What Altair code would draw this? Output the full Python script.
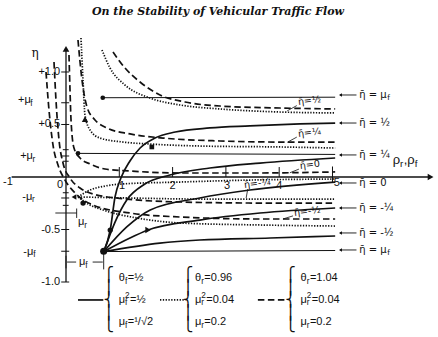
import altair as alt
import pandas as pd

# ---------------- constants of the figure ----------------
MU_F = 0.707
MU_R = 0.2
X_DOM = [-1.2383, 6.9794]
Y_DOM = [-1.5238, 1.6857]
PXU = 1 / 53.3   # data units per pixel (x)
PYU = 1 / 105    # data units per pixel (y)
INK = "#111111"

# ---------------- solid curves (theta_f = 1/2) ----------------
s1_p = [0.71, 0.83, 0.92, 1.03, 1.20, 1.39, 1.67, 2.05, 2.70, 3.45, 4.39, 5.05]
s1_eta = [-0.71, -0.505, -0.19, -0.01, 0.152, 0.276, 0.371, 0.429, 0.467, 0.486, 0.505, 0.514]
s2_p = [0.71, 0.92, 1.14, 1.48, 1.95, 2.70, 3.64, 5.05]
s2_eta = [-0.71, -0.429, -0.219, -0.067, 0.019, 0.086, 0.133, 0.181]
s3_p = [0.71, 1.14, 1.58, 2.51, 3.45, 5.05]
s3_eta = [-0.71, -0.476, -0.314, -0.20, -0.124, -0.048]
s4_p = [0.71, 1.20, 1.54, 2.51, 3.64, 5.05]
s4_eta = [-0.71, -0.581, -0.505, -0.41, -0.343, -0.295]
s5_p = [0.71, 1.76, 2.51, 3.83, 5.05]
s5_eta = [-0.71, -0.629, -0.60, -0.581, -0.562]

# ---------------- thin horizontal lines ----------------
hf_p = [0.69, 5.05]
hf_eta = [0.755, 0.760]
hr_p = [0.225, 5.05]
hr_eta = [0.225, 0.215]
hb_p = [0.71, 5.05]
hb_eta = [-0.71, -0.70]

# ---------------- dotted curves (theta_r = 0.96) ----------------
d1_p = [0.675, 0.826, 1.107, 1.576, 2.139, 2.889, 4.015, 5.05]
d1_eta = [1.21, 1.038, 0.876, 0.752, 0.686, 0.648, 0.619, 0.61]
d3_p = [0.281, 0.319, 0.356, 0.45, 0.638, 1.069, 1.576, 2.514, 4.015, 5.05]
d3_eta = [1.324, 0.924, 0.59, 0.448, 0.371, 0.333, 0.314, 0.295, 0.286, 0.276]
d0_p = [0.225, 0.45, 0.732, 1.032, 2.139, 3.452, 5.05]
d0_eta = [-0.19, -0.124, -0.086, -0.067, -0.048, -0.029, -0.019]
dq_p = [0.225, 1.2, 2.5, 5.05]
dq_eta = [-0.19, -0.20, -0.21, -0.21]
dh_p = [0.225, 0.45, 0.694, 1.445, 2.139, 3.64, 5.05]
dh_eta = [-0.19, -0.267, -0.314, -0.40, -0.438, -0.457, -0.467]

# ---------------- dashed curves (theta_r = 1.04) ----------------
e2_p = [0.882, 1.107, 1.388, 1.764, 2.233, 2.889, 4.015, 5.05]
e2_eta = [1.19, 1.038, 0.905, 0.781, 0.714, 0.676, 0.657, 0.648]
e4_p = [0.225, 0.30, 0.394, 0.544, 0.769, 1.201, 1.82, 2.889, 4.015, 5.05]
e4_eta = [1.305, 0.924, 0.667, 0.543, 0.467, 0.41, 0.371, 0.343, 0.333, 0.333]
e5_p = [0.056, 0.075, 0.094, 0.15, 0.263, 0.45, 0.732, 1.201, 2.139, 3.452, 5.05]
e5_eta = [1.162, 0.829, 0.543, 0.276, 0.181, 0.124, 0.076, 0.057, 0.038, 0.038, 0.048]
l2_p = [-0.225, -0.188, -0.131, -0.056, 0.075, 0.263, 0.507, 1.144, 2.139, 3.64, 5.05]
l2_eta = [1.095, 0.733, 0.352, 0.133, -0.01, -0.105, -0.162, -0.21, -0.238, -0.248, -0.248]
l1_p = [-0.375, -0.319, -0.244, -0.15, -0.019, 0.169, 0.507, 1.201, 2.139, 3.64, 5.05]
l1_eta = [1.0, 0.638, 0.305, 0.114, -0.029, -0.152, -0.267, -0.343, -0.381, -0.40, -0.40]

# ---------------- legend samples ----------------
leg_eta = -1.171
leg_solid_p = [0.225, 0.70]
leg_dot_p = [1.764, 2.24]
leg_dash_p = [3.60, 4.12]

# ---------------- labels ----------------
y_num_vals = [1.0, 0.5, -0.5, -1.0]
y_num_text = ["+1.0", "+0.5", "-0.5", "-1.0"]
y_mu_eta = [0.733, 0.20, -0.19, -0.714]
y_mu_text = ["+μ", "+μ", "-μ", "-μ"]
y_mu_sub = ["f", "r", "r", "f"]
y_mu_x = [-0.90, -0.86, -0.82, -0.80]
x_tick_vals = [1, 2, 3, 4]
x_lab_p = [-1.09, -0.113, 1.05, 2.0, 3.02, 4.0, 5.08]
x_lab_eta = [-0.05, -0.08, -0.09, -0.09, -0.09, -0.09, -0.06]
x_lab_text = ["-1", "0", "1", "2", "3", "4", "5"]
right_eta = [0.781, 0.514, 0.21, -0.057, -0.295, -0.533, -0.695]
right_text = ["η\u0304 = μ", "η\u0304 = ½", "η\u0304 = ¼", "η\u0304 = 0", "η\u0304 = -¼", "η\u0304 = -½", "η\u0304 = μ"]
right_sub = ["f", "", "", "", "", "", "f"]
inner_text = ["η\u0304=½", "η\u0304=¼", "η\u0304=0", "η\u0304=-¼", "η\u0304=-½"]
inner_p = [4.353, 4.353, 4.39, 3.34, 4.278]
inner_eta = [0.714, 0.41, 0.105, -0.076, -0.343]
leader_from = [(4.33, 0.68), (4.33, 0.38), (4.37, 0.075), (3.41, -0.115), (4.26, -0.37)]
leader_to = [(4.15, 0.63), (4.15, 0.33), (4.20, 0.04), (3.38, -0.20), (4.07, -0.40)]

legend_x = [0.99, 2.42, 4.40]
legend_brace_x = [0.80, 2.29, 4.21]
legend_brace_top = -0.87
legend_rows_eta = [-0.962, -1.171, -1.381]
legend_sub = ["f", "r", "r"]
legend_vals = [["=½", "=½", "=¹/√2"], ["=0.96", "=0.04", "=0.2"], ["=1.04", "=0.04", "=0.2"]]

TITLE = "On the Stability of Vehicular Traffic Flow"

# ---------------- build tables ----------------
curves = [
    ("s1", "solid", s1_p, s1_eta), ("s2", "solid", s2_p, s2_eta), ("s3", "solid", s3_p, s3_eta),
    ("s4", "solid", s4_p, s4_eta), ("s5", "solid", s5_p, s5_eta),
    ("hf", "thin", hf_p, hf_eta), ("hr", "thin", hr_p, hr_eta), ("hb", "thin", hb_p, hb_eta),
    ("d1", "dotted", d1_p, d1_eta), ("d3", "dotted", d3_p, d3_eta), ("d0", "dotted", d0_p, d0_eta),
    ("dq", "dotted", dq_p, dq_eta), ("dh", "dotted", dh_p, dh_eta),
    ("e2", "dashed", e2_p, e2_eta), ("e4", "dashed", e4_p, e4_eta), ("e5", "dashed", e5_p, e5_eta),
    ("l2", "dashed", l2_p, l2_eta), ("l1", "dashed", l1_p, l1_eta),
    ("ls", "solid", leg_solid_p, [leg_eta, leg_eta]),
    ("ld", "dotted", leg_dot_p, [leg_eta, leg_eta]),
    ("le", "dashed", leg_dash_p, [leg_eta, leg_eta]),
]
rows = []
for name, style, ps, es in curves:
    for i, (p, e) in enumerate(zip(ps, es)):
        rows.append(dict(curve=name, style=style, p=p, eta=e, i=i))
cdf = pd.DataFrame(rows)

xs = alt.Scale(domain=X_DOM, nice=False, zero=False)
ys = alt.Scale(domain=Y_DOM, nice=False, zero=False)
X = alt.X("p:Q", scale=xs, axis=None)
Y = alt.Y("eta:Q", scale=ys, axis=None)


def line_layer(style, **mk):
    return alt.Chart(cdf).transform_filter(alt.datum.style == style).mark_line(
        color=INK, interpolate="monotone", **mk
    ).encode(x=X, y=Y, detail="curve:N", order="i:Q")


solid = line_layer("solid", strokeWidth=1.7)
thin = line_layer("thin", strokeWidth=1.0)
dotted = line_layer("dotted", strokeWidth=1.7, strokeDash=[1.3, 1.5])
dashed = line_layer("dashed", strokeWidth=1.7, strokeDash=[6.5, 3.5])

# rules: axes, ticks, arrows, brackets
rr = []
rr.append(dict(p=-1.02, eta=0, p2=6.80, eta2=0, w=1.3))
rr.append(dict(p=0, eta=-1.0, p2=0, eta2=1.20, w=1.3))
for v in [1.0, MU_F, 0.5, MU_R, -MU_R, -0.5, -MU_F, -1.0]:
    rr.append(dict(p=-0.09, eta=v, p2=0.06, eta2=v, w=1.0))
for v in [0.26, 0.15, -0.15, -0.27]:
    rr.append(dict(p=-0.06, eta=v, p2=0.05, eta2=v, w=1.0))
rr.append(dict(p=-0.2, eta=-0.343, p2=0.2, eta2=-0.343, w=0.9))
rr.append(dict(p=0.2, eta=-0.30, p2=0.2, eta2=-0.39, w=0.9))
for v in x_tick_vals:
    rr.append(dict(p=v, eta=0, p2=v, eta2=0.095, w=1.0))
rr.append(dict(p=5, eta=-0.05, p2=5, eta2=0.10, w=1.0))
for e in right_eta:
    rr.append(dict(p=5.14, eta=e, p2=5.45, eta2=e, w=0.9))
for (a, b), (c, d) in zip(leader_from, leader_to):
    rr.append(dict(p=a, eta=b, p2=c, eta2=d, w=0.8))
# mu_f bracket
rr.append(dict(p=0.0, eta=-0.75, p2=0.0, eta2=-0.87, w=0.9))
rr.append(dict(p=0.02, eta=-0.81, p2=0.19, eta2=-0.81, w=0.9))
rr.append(dict(p=0.50, eta=-0.81, p2=0.69, eta2=-0.81, w=0.9))
rr.append(dict(p=MU_F, eta=-0.71, p2=MU_F, eta2=-0.88, w=0.9))
rdf = pd.DataFrame(rr)
rules = alt.Chart(rdf).mark_rule(color=INK).encode(
    x=X, y=Y, x2="p2:Q", y2="eta2:Q", strokeWidth=alt.StrokeWidth("w:Q", scale=None)
)

# points / arrowheads
pts = [
    dict(p=0.69, eta=0.755, shape="circle", size=22),
    dict(p=0.225, eta=0.225, shape="circle", size=22),
    dict(p=0.32, eta=-0.248, shape="circle", size=28),
    dict(p=0.83, eta=-0.505, shape="circle", size=28),
    dict(p=MU_F, eta=-MU_F, shape="circle", size=50),
    dict(p=0.356, eta=0.55, shape="triangle-up", size=40),
    dict(p=1.54, eta=-0.505, shape="triangle-right", size=40),
    dict(p=0.15, eta=-0.19, shape="triangle-left", size=30),
    dict(p=1.61, eta=0.286, shape="square", size=22),
    dict(p=0, eta=1.22, shape="triangle-up", size=45),
    dict(p=6.84, eta=0, shape="triangle-right", size=45),
]
for e in right_eta:
    pts.append(dict(p=5.15, eta=e, shape="triangle-left", size=12))
pdf = pd.DataFrame(pts)
points = alt.Chart(pdf).mark_point(filled=True, color=INK, opacity=1).encode(
    x=X, y=Y, shape=alt.Shape("shape:N", scale=None), size=alt.Size("size:Q", scale=None)
)

# ---------------- text ----------------
CW = {".": 0.28, ",": 0.28, "f": 0.28, "r": 0.33, "-": 0.33, " ": 0.28, "½": 0.83, "¼": 0.83,
      "\u0304": 0.0, "=": 0.58, "√": 0.55, "¹": 0.33, "/": 0.28, "η": 0.6}


def tw(txt, size, wf=1.0):
    return sum(CW.get(c, 0.56) for c in txt) * size * wf


def rich(out, p, eta, parts, size=11, wf=1.0):
    x = p
    for part in parts:
        kind = part[0]
        if kind == "b":
            out.append(dict(p=x, eta=eta, text=part[1], size=size))
            x += tw(part[1], size, wf) * PXU
        elif kind == "sub":
            s = size * 0.75
            out.append(dict(p=x, eta=eta - 0.32 * size * PYU, text=part[1], size=s))
            x += (tw(part[1], s, wf) + 0.5) * PXU
        elif kind == "ss":
            s = size * 0.75
            out.append(dict(p=x, eta=eta + 0.38 * size * PYU, text=part[1], size=s))
            out.append(dict(p=x, eta=eta - 0.32 * size * PYU, text=part[2], size=s))
            x += (max(tw(part[1], s, wf), tw(part[2], s, wf)) + 0.5) * PXU


left_rows = []
for t, e, s, x0 in zip(y_mu_text, y_mu_eta, y_mu_sub, y_mu_x):
    rich(left_rows, x0, e, [("b", t), ("sub", s)], size=11)
for col, x0 in enumerate(legend_x):
    sub = legend_sub[col]
    vals = legend_vals[col]
    rich(left_rows, x0, legend_rows_eta[0], [("b", "θ"), ("sub", sub), ("b", vals[0])], size=11)
    rich(left_rows, x0, legend_rows_eta[1], [("b", "μ"), ("ss", "2", sub), ("b", vals[1])], size=11)
    rich(left_rows, x0, legend_rows_eta[2], [("b", "μ"), ("sub", sub), ("b", vals[2])], size=11)
rich(left_rows, 0.225, -0.43, [("b", "μ"), ("sub", "r")], size=11)
rich(left_rows, 0.245, -0.81, [("b", "μ"), ("sub", "f")], size=11)
rich(left_rows, 6.13, 0.165, [("b", "ρ"), ("sub", "r"), ("b", ","), ("b", "ρ"), ("sub", "f")], size=13)
ldf = pd.DataFrame(left_rows)
t_left = alt.Chart(ldf).mark_text(align="left", baseline="middle", font="Liberation Sans", color=INK).encode(
    x=X, y=Y, text="text:N", size=alt.Size("size:Q", scale=None)
)

# labels holding eta-bar (DejaVu places the combining bar well)
bar_rows = []
for t, e, s in zip(right_text, right_eta, right_sub):
    parts = [("b", t)]
    if s:
        parts.append(("sub", s))
    rich(bar_rows, 5.50, e, parts, size=10, wf=1.22)
bdf_t = pd.DataFrame(bar_rows)
t_bar = alt.Chart(bdf_t).mark_text(align="left", baseline="middle", font="DejaVu Sans", color=INK).encode(
    x=X, y=Y, text="text:N", size=alt.Size("size:Q", scale=None)
)

rdf_t = pd.DataFrame(dict(p=[-0.11] * len(y_num_vals), eta=y_num_vals, text=y_num_text))
t_right = alt.Chart(rdf_t).mark_text(align="right", baseline="middle", font="Liberation Sans",
                                      fontSize=11, color=INK).encode(x=X, y=Y, text="text:N")

cdf_t = pd.DataFrame(dict(p=x_lab_p, eta=x_lab_eta, text=x_lab_text))
t_center = alt.Chart(cdf_t).mark_text(align="center", baseline="middle", font="Liberation Sans",
                                       fontSize=11, color=INK).encode(x=X, y=Y, text="text:N")

idf = pd.DataFrame(dict(p=inner_p, eta=inner_eta, text=inner_text))
t_inner = alt.Chart(idf).mark_text(align="left", baseline="middle", font="DejaVu Sans",
                                    fontSize=9.5, angle=353, color=INK).encode(x=X, y=Y, text="text:N")

eta_lab = alt.Chart(pd.DataFrame(dict(p=[-0.58], eta=[1.18], text=["η"]))).mark_text(
    align="center", baseline="middle", font="DejaVu Serif", fontSize=12, color=INK
).encode(x=X, y=Y, text="text:N")

title = alt.Chart(pd.DataFrame(dict(p=[2.852], eta=[1.571], text=[TITLE]))).mark_text(
    align="center", baseline="middle", font="DejaVu Serif", fontSize=11,
    fontWeight="bold", fontStyle="italic", color=INK
).encode(x=X, y=Y, text="text:N")

bdf = pd.DataFrame(dict(p=legend_brace_x, eta=[legend_brace_top] * 3, text=["⎧\n⎪\n⎨\n⎪\n⎩"] * 3))
braces = alt.Chart(bdf).mark_text(align="center", baseline="top", font="DejaVu Sans", fontSize=14,
                                   lineBreak="\n", lineHeight=12.5, color=INK).encode(x=X, y=Y, text="text:N")

chart = alt.layer(
    thin, dotted, dashed, solid, rules, points, t_left, t_bar, t_right, t_center, t_inner, eta_lab, title, braces
).properties(
    width=438, height=337, autosize=alt.AutoSizeParams(type="none"), padding=0, background="white"
).configure_view(stroke=None)

chart.save("out.html", embed_options={"renderer": "svg", "actions": False})
